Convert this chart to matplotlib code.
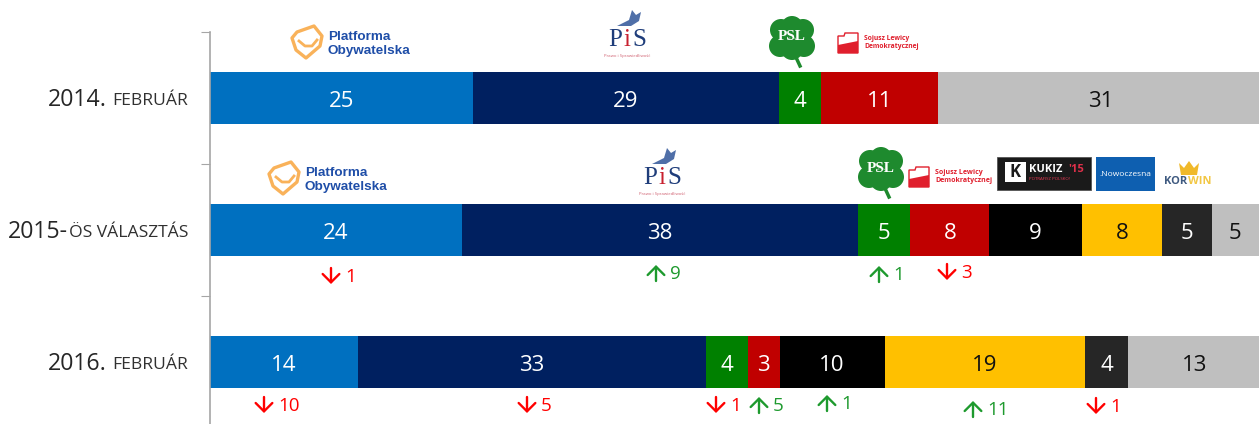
import matplotlib
matplotlib.use('Agg')
import matplotlib.pyplot as plt
from matplotlib.patches import Polygon, Circle, Rectangle

plt.rcParams['font.family'] = ['Open Sans', 'DejaVu Sans']

# Data
years = ['2014.', '2015-', '2016.']
year_suffix = ['FEBRUÁR', 'ÖS VÁLASZTÁS', 'FEBRUÁR']

# bar widths as measured, labels as printed
values_2014 = [25.0, 29.2, 4.0, 11.1, 31.0]
labels_2014 = ['25', '29', '4', '11', '31']
colors_2014 = ['#0070C0', '#002060', '#008000', '#C00000', '#BFBFBF']

values_2015 = [24.0, 37.7, 5.0, 7.5, 8.8, 7.7, 4.7, 4.5]
labels_2015 = ['24', '38', '5', '8', '9', '8', '5', '5']
colors_2015 = ['#0070C0', '#002060', '#008000', '#C00000', '#000000', '#FFC000', '#262626', '#BFBFBF']

values_2016 = [14.1, 33.1, 4.0, 3.05, 10.0, 19.1, 4.1, 12.6]
labels_2016 = ['14', '33', '4', '3', '10', '19', '4', '13']
colors_2016 = colors_2015

# change against the previous row
changes_2015 = ['-1', '+9', '+1', '-3']
changes_2015_x = [331, 656, 879, 947]
changes_2015_y = [276, 273, 274, 272]
changes_2016 = ['-10', '-5', '-1', '+5', '+1', '+11', '-1']
changes_2016_x = [264, 527, 716, 759, 827, 973, 1096]
changes_2016_y = [405, 405, 405, 405, 403, 409, 406]

W, H = 1259, 424
fig = plt.figure(figsize=(W / 100, H / 100), dpi=100)

# main axes: x in percent, y in rows
ax = fig.add_axes([210 / W, 0, (W - 210) / W, (H - 32) / H])
ax.set_xlim(0, 99.9)
ax.set_ylim(2.47, -0.5)

rows = [(values_2014, labels_2014, colors_2014),
        (values_2015, labels_2015, colors_2015),
        (values_2016, labels_2016, colors_2016)]
bar_h = 52 / 132
for i, (vals, labs, cols) in enumerate(rows):
    left = 0
    for v, lab, c in zip(vals, labs, cols):
        ax.barh(i, v, left=left, height=bar_h, color=c, linewidth=0)
        tc = '#111111' if c in ('#FFC000', '#BFBFBF') else 'white'
        ax.text(left + v / 2, i + 0.025, lab, color=tc, fontsize=16, ha='center', va='center')
        left += v

for s in ['top', 'right', 'bottom']:
    ax.spines[s].set_visible(False)
ax.spines['left'].set_color('#A6A6A6')
ax.spines['left'].set_linewidth(1.2)
ax.set_xticks([])
ax.set_yticks([-0.5, 0.5, 1.5])
ax.set_yticklabels([])
ax.tick_params(axis='y', length=6.5, color='#A6A6A6', width=0.8)

# overlay in pixels for row titles, changes and party logos
ov = fig.add_axes([0, 0, 1, 1])
ov.set_xlim(0, W)
ov.set_ylim(H, 0)
ov.axis('off')
ov.patch.set_alpha(0)

year_right = [107, 68, 107]
for i in range(3):
    y = 98 + 132 * i
    ov.text(year_right[i], y + 2, years[i], fontsize=16.7, color='#262626', ha='right', va='center')
    ov.text(188, y + 3, year_suffix[i], fontsize=12.6, color='#303030', ha='right', va='center')


def change(x, y, txt):
    up = txt[0] == '+'
    col = '#1E9A2E' if up else '#FF0000'
    y0, y1 = (y + 8, y - 8) if up else (y - 8, y + 8)
    ov.annotate('', xy=(x, y1), xytext=(x, y0),
                arrowprops=dict(arrowstyle='->,head_width=0.6,head_length=0.6', color=col, lw=1.7,
                                shrinkA=0, shrinkB=0))
    ov.text(x + 14, y + 1, txt[1:], color=col, fontsize=13.5, fontweight='medium', ha='left', va='center')


for t, x, y in zip(changes_2015, changes_2015_x, changes_2015_y):
    change(x, y, t)
for t, x, y in zip(changes_2016, changes_2016_x, changes_2016_y):
    change(x, y, t)


def logo_po(x, y):
    shield = [(x, y + 12), (x + 5, y + 6), (x + 22, y), (x + 30, y + 10), (x + 28, y + 20), (x + 14, y + 32), (x + 4, y + 24)]
    ov.add_patch(Polygon(shield, closed=True, fill=False, ec='#F9B25A', lw=2.4, joinstyle='round'))
    ov.plot([x + 7, x + 13, x + 20, x + 25], [y + 15, y + 20, y + 20, y + 14], color='#F9B25A', lw=2)
    ov.text(x + 36, y + 11, 'Platforma', color='#1F4EA8', fontsize=9.7, fontweight='bold', ha='left', va='center', family='Liberation Sans')
    ov.text(x + 36, y + 25, 'Obywatelska', color='#1F4EA8', fontsize=9.7, fontweight='bold', ha='left', va='center', family='Liberation Sans')


def logo_pis(x, y):
    ov.text(x - 12, y, 'P', color='#1F3D7A', fontsize=18, ha='center', va='center', family='Liberation Serif')
    ov.text(x, y, 'i', color='#C8202F', fontsize=18, ha='center', va='center', family='Liberation Serif')
    ov.text(x + 12, y, 'S', color='#1F3D7A', fontsize=18, ha='center', va='center', family='Liberation Serif')
    ov.add_patch(Polygon([(x - 10, y - 14), (x + 2, y - 20), (x + 5, y - 30), (x + 9, y - 25), (x + 14, y - 28), (x + 12, y - 19), (x + 4, y - 14)],
                         closed=True, fc='#4F6FA8', ec='none'))
    ov.text(x, y + 16, 'Prawo i Sprawiedliwość', color='#D06070', fontsize=3.1, ha='center', va='center')


def logo_psl(x, y):
    for dx, dy in [(-11, -9), (11, -9), (-12, 7), (12, 7), (0, -12), (0, 10)]:
        ov.add_patch(Circle((x + dx, y + dy), 11, fc='#1E8A2E', ec='none'))
    ov.plot([x + 2, x + 8], [y + 14, y + 27], color='#1E8A2E', lw=2.5)
    ov.text(x, y - 2, 'PSL', color='white', fontsize=11, fontweight='bold', ha='center', va='center', family='Liberation Serif')


def logo_sld(x, y, fs):
    ov.add_patch(Polygon([(x, y + 3), (x + 6, y + 3), (x + 7, y), (x + 20, y), (x + 20, y + 20), (x, y + 20)],
                         closed=True, fc='white', ec='#E01F2D', lw=1))
    ov.add_patch(Polygon([(x, y + 12), (x + 20, y + 8), (x + 20, y + 20), (x, y + 20)], closed=True, fc='#E01F2D', ec='none'))
    ov.text(x + 26, y + 6, 'Sojusz Lewicy', color='#E01F2D', fontsize=fs, fontweight='bold', ha='left', va='center')
    ov.text(x + 26, y + 14, 'Demokratycznej', color='#E01F2D', fontsize=fs, fontweight='bold', ha='left', va='center')


logo_po(292, 26)
logo_pis(627, 40)
logo_psl(792, 39)
logo_sld(838, 33, 4.9)

logo_po(269, 162)
logo_pis(662, 178)
logo_psl(881, 170)
logo_sld(909, 167, 5)

# Kukiz'15
ov.add_patch(Rectangle((997, 157), 94, 33, fc='#1A1A1A', ec='#555555', lw=0.6))
ov.add_patch(Rectangle((1005, 162), 21, 20, fc='white', ec='none'))
ov.text(1015.5, 172, 'K', color='#1A1A1A', fontsize=12, fontweight='bold', ha='center', va='center')
ov.text(1029, 170, 'KUKIZ', color='white', fontsize=8, fontweight='bold', ha='left', va='center')
ov.text(1068, 170, "'15", color='#E0304A', fontsize=8, fontweight='bold', ha='left', va='center')
ov.text(1029, 179, 'POTRAFISZ POLSKO!', color='#F03A55', fontsize=3.2, ha='left', va='center')

# Nowoczesna
ov.add_patch(Rectangle((1096, 157), 59, 34, fc='#0E5FB0', ec='none'))
ov.text(1125.5, 174, '.Nowoczesna', color='white', fontsize=6, ha='center', va='center')

# Korwin
ov.add_patch(Polygon([(1179, 163), (1184, 168), (1189, 161), (1194, 168), (1199, 163), (1197, 175), (1181, 175)],
                     closed=True, fc='#F0B92A', ec='none'))
ov.text(1164, 181, 'KOR', color='#3F5A80', fontsize=8, fontweight='bold', ha='left', va='center')
ov.text(1188, 181, 'WIN', color='#F2C744', fontsize=8, fontweight='bold', ha='left', va='center')

fig.savefig('out.png', dpi=100)
